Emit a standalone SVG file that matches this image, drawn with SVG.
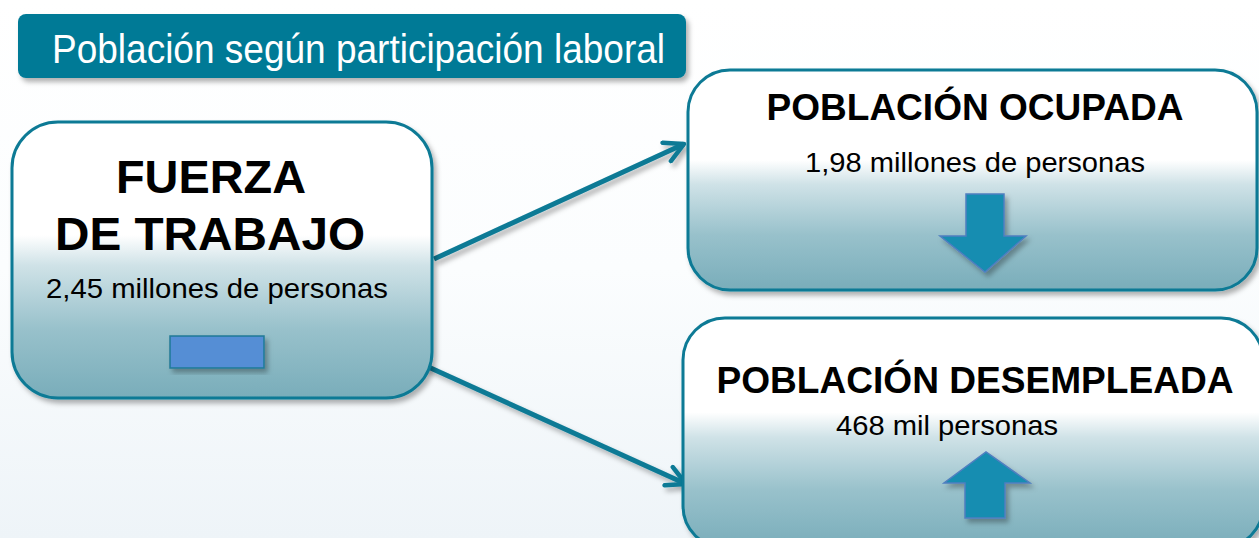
<svg xmlns="http://www.w3.org/2000/svg" width="1259" height="538" viewBox="0 0 1259 538">
<defs>
<linearGradient id="bg" x1="0" y1="0" x2="0" y2="1">
<stop offset="0" stop-color="#ffffff"/>
<stop offset="0.5" stop-color="#fbfdfe"/>
<stop offset="1" stop-color="#eef4f8"/>
</linearGradient>
<linearGradient id="ng" x1="0" y1="0" x2="0" y2="1">
<stop offset="0" stop-color="#ffffff"/>
<stop offset="0.41" stop-color="#ffffff"/>
<stop offset="0.52" stop-color="#cfe2e7"/>
<stop offset="0.75" stop-color="#98c1cb"/>
<stop offset="1" stop-color="#79adba"/>
</linearGradient>
<filter id="sh" x="-10%" y="-10%" width="130%" height="130%">
<feDropShadow dx="3" dy="4" stdDeviation="2.5" flood-color="#000" flood-opacity="0.3"/>
</filter>
<marker id="ah" viewBox="0 0 10 10" markerWidth="5" markerHeight="5" refX="8.6" refY="5" orient="auto" markerUnits="strokeWidth">
<path d="M1,1 L8.6,5 L1,9" fill="none" stroke="#0b7a95" stroke-width="1.8" stroke-linecap="round" stroke-linejoin="round"/>
</marker>
<style>
.node{fill:url(#ng);stroke:#0b7a95;stroke-width:3;filter:url(#sh)}
.big{font-family:"Liberation Sans",Arial,sans-serif;font-weight:bold;fill:#000}
.sub{font-family:"Liberation Sans",Arial,sans-serif;fill:#000}
.conn{stroke:#0b7a95;stroke-width:5;fill:none;marker-end:url(#ah);filter:url(#sh)}
.blk{fill:#168db1;stroke:#4f7fc0;stroke-width:1.5;filter:url(#sh)}
</style>
</defs>
<rect x="0" y="0" width="1259" height="538" fill="url(#bg)"/>
<g id="title">
<rect x="18" y="14" width="668" height="64" rx="8" fill="#007a96" filter="url(#sh)"/>
<text x="52" y="63" font-family="Liberation Sans,Arial,sans-serif" font-size="40" fill="#ffffff" textLength="613" lengthAdjust="spacingAndGlyphs">Población según participación laboral</text>
</g>
<g id="connectors">
<line class="conn" x1="434" y1="259" x2="684" y2="144"/>
<line class="conn" x1="424" y1="365" x2="686" y2="484"/>
</g>
<g id="fuerza">
<rect class="node" x="12" y="122" width="420" height="276" rx="46"/>
<text class="big" x="211" y="193" font-size="47" text-anchor="middle" textLength="190" lengthAdjust="spacingAndGlyphs">FUERZA</text>
<text class="big" x="210" y="250" font-size="47" text-anchor="middle" textLength="310" lengthAdjust="spacingAndGlyphs">DE TRABAJO</text>
<text class="sub" x="217" y="298" font-size="28" text-anchor="middle" textLength="342" lengthAdjust="spacingAndGlyphs">2,45 millones de personas</text>
<rect x="170" y="336" width="94" height="32" fill="#558ed5" stroke="#1f7a96" stroke-width="1.5" filter="url(#sh)"/>
</g>
<g id="ocupada">
<rect class="node" x="688" y="70" width="569" height="220" rx="42"/>
<text class="big" x="975" y="120" font-size="36" text-anchor="middle" textLength="417" lengthAdjust="spacingAndGlyphs">POBLACIÓN OCUPADA</text>
<text class="sub" x="975" y="172" font-size="28" text-anchor="middle" textLength="340" lengthAdjust="spacingAndGlyphs">1,98 millones de personas</text>
<path class="blk" d="M966,194 L1004,194 L1004,236 L1026,236 L985,272 L940,236 L966,236 Z"/>
</g>
<g id="desempleada">
<rect class="node" x="683" y="318" width="580" height="230" rx="42"/>
<text class="big" x="975" y="393" font-size="36" text-anchor="middle" textLength="517" lengthAdjust="spacingAndGlyphs">POBLACIÓN DESEMPLEADA</text>
<text class="sub" x="947" y="435" font-size="28" text-anchor="middle" textLength="222" lengthAdjust="spacingAndGlyphs">468 mil personas</text>
<path class="blk" d="M965,518 L1005,518 L1005,483 L1030,483 L986,452 L944,483 L965,483 Z"/>
</g>
</svg>
